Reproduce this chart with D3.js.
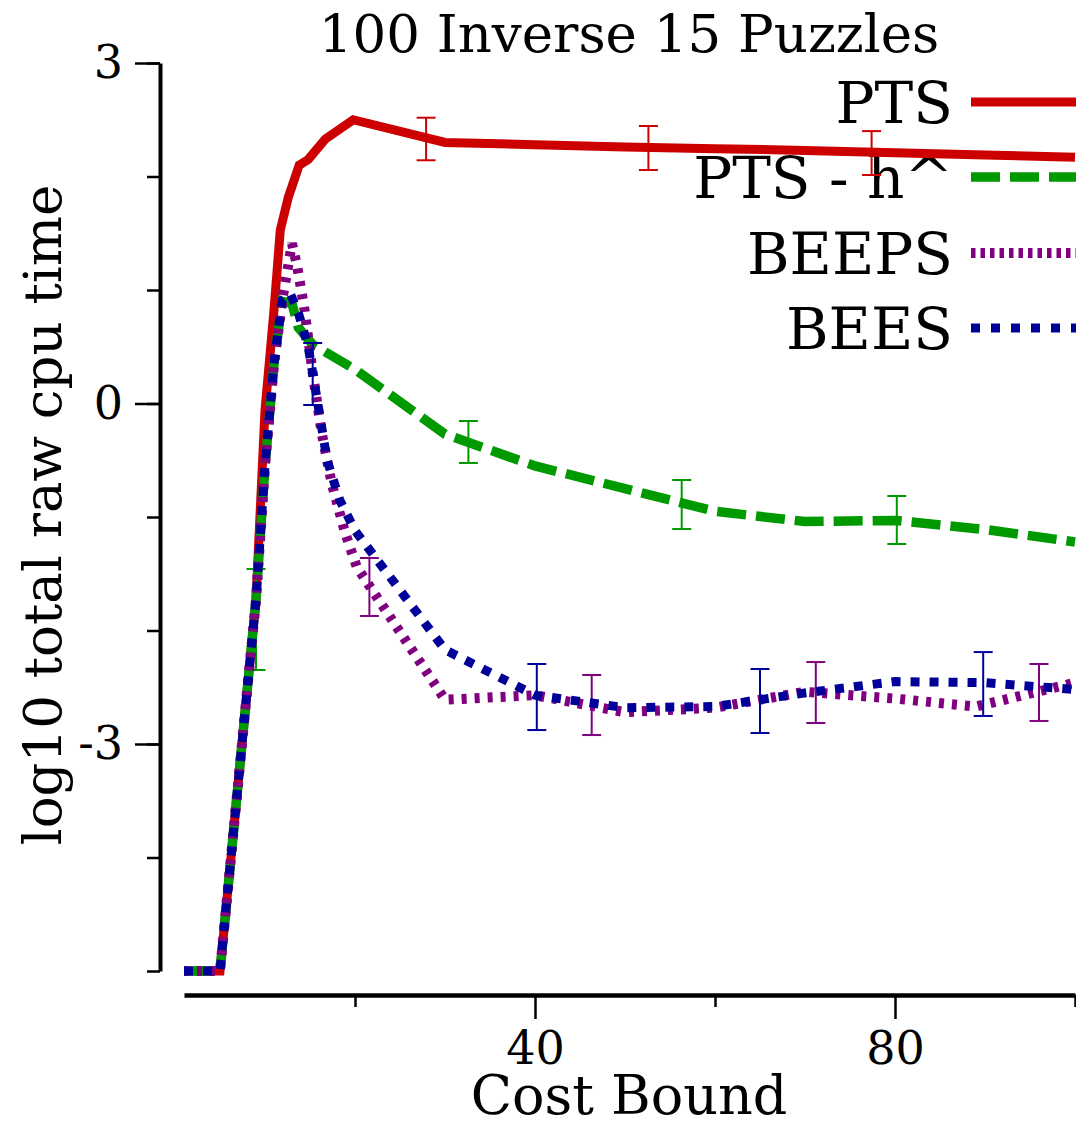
<!DOCTYPE html>
<html>
<head>
<meta charset="utf-8">
<script src="https://cdn.jsdelivr.net/npm/d3@7"></script>
<style>
  html, body { margin: 0; padding: 0; background: #fff; }
  svg { display: block; }
  text { font-family: "DejaVu Serif", serif; fill: #000; }
</style>
</head>
<body>
<div id="chart"></div>
<script>
// ---------- data ----------
const title = "100 Inverse 15 Puzzles";
const xLabel = "Cost Bound";
const yLabel = "log10 total raw cpu time";

const seriesNames = ["PTS", "PTS - h^", "BEEPS", "BEES"];
const seriesColors = ["#cc0000", "#009900", "#800080", "#000099"];

// [cost bound, log10 cpu time]
const ptsValues = [
  [1,-5],[5,-5],[6,-4.18],[7,-3.36],[8,-2.54],[9,-1.73],[10,-0.06],[11,0.82],
  [11.7,1.53],[12.6,1.82],[13.8,2.10],[14.8,2.15],[16.7,2.33],[19.8,2.50],
  [30,2.30],[40,2.28],[50,2.26],[60,2.245],[70,2.23],[80,2.21],[90,2.19],[100,2.17]
];
const ptsHValues = [
  [1,-5],[5,-5],[6,-4.18],[7,-3.36],[8,-2.54],[9,-1.73],[10,-0.55],[11,0.35],
  [11.9,0.90],[13,0.88],[13.7,0.67],[15.3,0.52],[20,0.30],
  [30,-0.27],[40,-0.55],[50,-0.75],[60,-0.95],[70,-1.04],[80,-1.03],[90,-1.11],[100,-1.22]
];
const beepsValues = [
  [1,-5],[5,-5],[6,-4.18],[7,-3.36],[8,-2.54],[9,-1.73],[10,-0.55],[11,0.35],
  [12,0.95],[13,1.41],[13.6,1.20],[14.4,0.82],[15.3,0.27],[16.3,-0.26],[17.4,-0.70],
  [18.9,-1.14],[20.2,-1.44],[30,-2.61],[40,-2.57],[50,-2.72],[60,-2.68],[70,-2.54],
  [80,-2.60],[89,-2.67],[100,-2.46]
];
const beesValues = [
  [1,-5],[5,-5],[6,-4.18],[7,-3.36],[8,-2.54],[9,-1.73],[10,-0.55],[11,0.35],
  [11.9,0.91],[12.8,0.97],[13.7,0.80],[14.8,0.50],[15.8,0.03],[16.9,-0.50],
  [18.3,-0.85],[20,-1.12],[30,-2.17],[40,-2.57],[50,-2.68],[60,-2.67],[70,-2.55],
  [80,-2.45],[90,-2.46],[100,-2.52]
];

// error bars: [cost bound, low, high]
const ptsErrors   = [[27.9,2.143,2.518],[52.6,2.057,2.445],[77.4,2.013,2.40]];
const ptsHErrors  = [[9.0,-2.348,-1.458],[32.6,-0.524,-0.154],[56.3,-1.106,-0.674],[80.2,-1.238,-0.815]];
const beepsErrors = [[21.6,-1.872,-1.361],[46.3,-2.921,-2.392],[71.2,-2.815,-2.278],[96,-2.797,-2.295]];
const beesErrors  = [[15.3,-0.013,0.533],[40.2,-2.877,-2.295],[65,-2.903,-2.339],[89.8,-2.753,-2.19]];

const xMajorTicks = [40, 80];
const xMinorTicks = [20, 60, 100];
const yMajorTicks = [-3, 0, 3];
const yMinorTicks = [-5, -4, -3, -2, -1, 0, 1, 2, 3];

// ---------- drawing ----------
const W = 1076, H = 1126;
const svg = d3.select("#chart").append("svg").attr("width", W).attr("height", H);

const x = d3.scaleLinear().domain([1, 100]).range([184, 1075]);
const y = d3.scaleLinear().domain([-5, 3]).range([971, 63]);

const series = [
  {name: seriesNames[0], color: seriesColors[0], values: ptsValues,   errors: ptsErrors,   width: 9,  dash: null,   legendDash: null},
  {name: seriesNames[1], color: seriesColors[1], values: ptsHValues,  errors: ptsHErrors,  width: 9.5, dash: "29,10", legendDash: "29,10"},
  {name: seriesNames[2], color: seriesColors[2], values: beepsValues, errors: beepsErrors, width: 10, dash: "5,8",  legendDash: "4.5,5"},
  {name: seriesNames[3], color: seriesColors[3], values: beesValues,  errors: beesErrors,  width: 9,  dash: "9,10", legendDash: "9,11"}
];

const fmt = d => String(d);

// Title
svg.append("text").attr("x", 629).attr("y", 52).attr("text-anchor", "middle")
  .attr("font-size", 53).text(title);

// Axis titles
svg.append("text").attr("x", 629).attr("y", 1114).attr("text-anchor", "middle")
  .attr("font-size", 54).text(xLabel);
svg.append("text").attr("transform", "translate(61,515) rotate(-90)")
  .attr("text-anchor", "middle").attr("font-size", 53).text(yLabel);

// Y axis
const yMajor = svg.append("g").attr("transform", "translate(160,0)")
  .call(d3.axisLeft(y).tickValues(yMajorTicks).tickSize(25).tickSizeOuter(0).tickPadding(12).tickFormat(fmt));
yMajor.select(".domain").attr("stroke", "#000").attr("stroke-width", 4);
yMajor.selectAll(".tick line").attr("stroke", "#000").attr("stroke-width", 2.5);
yMajor.selectAll(".tick text").attr("font-family", "DejaVu Serif").attr("font-size", 46).attr("fill", "#000");
const yMinor = svg.append("g").attr("transform", "translate(160,0)")
  .call(d3.axisLeft(y).tickValues(yMinorTicks).tickSize(13).tickSizeOuter(0).tickFormat(""));
yMinor.select(".domain").remove();
yMinor.selectAll(".tick line").attr("stroke", "#000").attr("stroke-width", 2.5);

// X axis
const xMajor = svg.append("g").attr("transform", "translate(0,995)")
  .call(d3.axisBottom(x).tickValues(xMajorTicks).tickSize(24).tickSizeOuter(0).tickPadding(12).tickFormat(fmt));
xMajor.select(".domain").attr("stroke", "#000").attr("stroke-width", 4.5);
xMajor.selectAll(".tick line").attr("stroke", "#000").attr("stroke-width", 2.5);
xMajor.selectAll(".tick text").attr("font-family", "DejaVu Serif").attr("font-size", 46).attr("fill", "#000");
const xMinor = svg.append("g").attr("transform", "translate(0,995)")
  .call(d3.axisBottom(x).tickValues(xMinorTicks).tickSize(12).tickSizeOuter(0).tickFormat(""));
xMinor.select(".domain").remove();
xMinor.selectAll(".tick line").attr("stroke", "#000").attr("stroke-width", 2.5);

// Legend
const legendRowsY = [102, 177, 253, 328];
const legend = svg.append("g");
series.forEach((s, i) => {
  legend.append("text").attr("x", 953).attr("y", legendRowsY[i]).attr("dy", "0.36em")
    .attr("text-anchor", "end").attr("font-size", 58).text(s.name);
  legend.append("line").attr("x1", 971).attr("x2", 1080)
    .attr("y1", legendRowsY[i]).attr("y2", legendRowsY[i])
    .attr("stroke", s.color).attr("stroke-width", s.width)
    .attr("stroke-dasharray", s.legendDash);
});

// Lines + error bars
const line = d3.line().x(d => x(d[0])).y(d => y(d[1]));
const plot = svg.append("g");
series.forEach(s => {
  plot.append("path").datum(s.values).attr("d", line)
    .attr("fill", "none").attr("stroke", s.color).attr("stroke-width", s.width)
    .attr("stroke-linejoin", "miter").attr("stroke-dasharray", s.dash);
  const eb = plot.append("g").attr("stroke", s.color).attr("stroke-width", 2);
  s.errors.forEach(e => {
    eb.append("line").attr("x1", x(e[0])).attr("x2", x(e[0])).attr("y1", y(e[1])).attr("y2", y(e[2]));
    eb.append("line").attr("x1", x(e[0]) - 9.5).attr("x2", x(e[0]) + 9.5).attr("y1", y(e[1])).attr("y2", y(e[1]));
    eb.append("line").attr("x1", x(e[0]) - 9.5).attr("x2", x(e[0]) + 9.5).attr("y1", y(e[2])).attr("y2", y(e[2]));
  });
});
</script>
</body>
</html>
